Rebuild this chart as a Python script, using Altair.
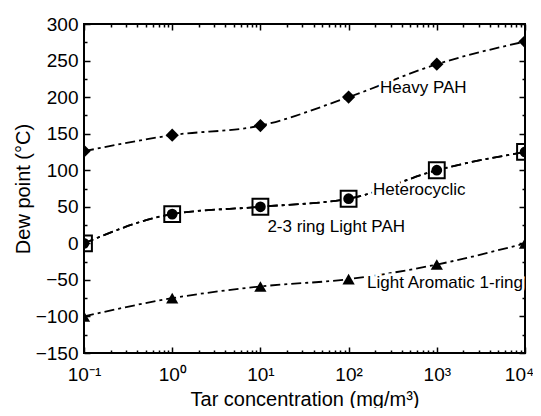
import altair as alt
import pandas as pd

# ---- data ----
conc = [0.1, 1, 10, 100, 1000, 10000]
heavy_pah = [126, 148, 161, 200, 245, 276]
heterocyclic = [0, 40, 50, 61, 100, 125]
light_pah_23 = [0, 40, 50, 61, 100, 125]
light_arom_1 = [-100, -75, -59, -49, -29, 0]

series_names = ["Heavy PAH", "Heterocyclic", "2-3 ring Light PAH", "Light Aromatic 1-ring"]
series_values = [heavy_pah, heterocyclic, light_pah_23, light_arom_1]

label_text = ["Heavy PAH", "Heterocyclic", "2-3 ring Light PAH", "Light Aromatic 1-ring"]
label_x = [227, 189, 12, 162]
label_y = [212, 73, 23, -54]

x_major = [0.1, 1, 10, 100, 1000, 10000]
x_major_labels = ["10⁻¹", "10⁰", "10¹", "10²", "10³", "10⁴"]
x_minor = [m * k for m in [0.1, 1, 10, 100, 1000] for k in range(2, 10)]
y_major = list(range(-150, 301, 50))
y_minor = list(range(-125, 300, 50))

# ---- tables ----
rows = []
for name, vals in zip(series_names, series_values):
    for xv, yv in zip(conc, vals):
        rows.append({"x": xv, "y": yv, "series": name})
df = pd.DataFrame(rows)
lab_df = pd.DataFrame({"text": label_text, "x": label_x, "y": label_y})

FONT = "Liberation Sans"
W, H = 441, 329

xscale = alt.Scale(type="log", domain=[0.1, 10000])
yscale = alt.Scale(domain=[-150, 300])

label_expr = " : ".join(
    f"abs(datum.value - {v}) < {v}*0.001 ? '{t}'" for v, t in zip(x_major, x_major_labels)
) + " : ''"

ax_x_main = alt.Axis(orient="bottom", values=x_major, labelExpr=label_expr, ticks=False, domain=False,
                     grid=False, labelFont=FONT, labelFontSize=19, labelColor="black", labelPadding=12,
                     labelFlush=False, labelOverlap=False,
                     labelOffset={"condition": {"test": "datum.value > 5000", "value": -6}, "value": 0},
                     title="Tar concentration (mg/m³)", titleFont=FONT, titleFontSize=20,
                     titleFontWeight="normal", titleColor="black", titlePadding=5)
ax_y_main = alt.Axis(orient="left", values=y_major, ticks=False, domain=False, grid=False,
                     labelFont=FONT, labelFontSize=19, labelColor="black", labelPadding=6,
                     labelOverlap=False,
                     title="Dew point  (°C)", titleFont=FONT, titleFontSize=20,
                     titleFontWeight="normal", titleColor="black", titlePadding=2)

def tick_axis(orient, offset, values, size):
    return alt.Axis(orient=orient, offset=offset, values=values, labels=False, domain=False,
                    grid=False, title="", tickSize=size, tickWidth=1.5, tickColor="black")

base = alt.Chart(df)

lines = base.mark_line(color="black", strokeWidth=1.8, strokeDash=[10, 4, 3, 4],
                       interpolate="monotone", clip=True).encode(
    x=alt.X("x:Q", scale=xscale, axis=ax_x_main),
    y=alt.Y("y:Q", scale=yscale, axis=ax_y_main),
    detail="series:N",
)

def pts(name, xaxis, yaxis, **kw):
    return base.transform_filter(alt.datum.series == name).mark_point(clip=True, opacity=1, **kw).encode(
        x=alt.X("x:Q", scale=xscale, axis=xaxis),
        y=alt.Y("y:Q", scale=yscale, axis=yaxis),
    )

p_heavy = pts("Heavy PAH", tick_axis("top", -H, x_major, 6), tick_axis("right", -W, y_major, 6),
              shape="diamond", filled=True, size=175, color="black")
p_het = pts("Heterocyclic", tick_axis("bottom", -H, x_major, 6), tick_axis("left", -W, y_major, 6),
            shape="square", filled=False, size=250, color="black", strokeWidth=2)
p_23 = pts("2-3 ring Light PAH", tick_axis("top", -H, x_minor, 3), tick_axis("right", -W, y_minor, 3),
           shape="circle", filled=True, size=115, color="black")
p_la = pts("Light Aromatic 1-ring", tick_axis("bottom", -H, x_minor, 3), tick_axis("left", -W, y_minor, 3),
           shape="triangle-up", filled=True, size=150, color="black")

halo = alt.Chart(lab_df).mark_text(font=FONT, fontSize=17, align="left", baseline="middle",
                                   color="white", stroke="white", strokeWidth=5).encode(
    x=alt.X("x:Q", scale=xscale, axis=None),
    y=alt.Y("y:Q", scale=yscale, axis=None),
    text="text:N",
)
labels = alt.Chart(lab_df).mark_text(font=FONT, fontSize=17, align="left", baseline="middle",
                                     color="black").encode(
    x=alt.X("x:Q", scale=xscale, axis=None),
    y=alt.Y("y:Q", scale=yscale, axis=None),
    text="text:N",
)

chart = alt.layer(lines, halo, labels, p_heavy, p_het, p_23, p_la).resolve_axis(
    x="independent", y="independent"
).properties(
    width=W, height=H,
    padding={"left": 76, "top": 16, "right": 8, "bottom": 55},
    autosize=alt.AutoSizeParams(type="none"),
    background="white",
).configure_view(stroke="black", strokeWidth=2)

chart.save("out.html", embed_options={"renderer": "svg", "actions": False})
